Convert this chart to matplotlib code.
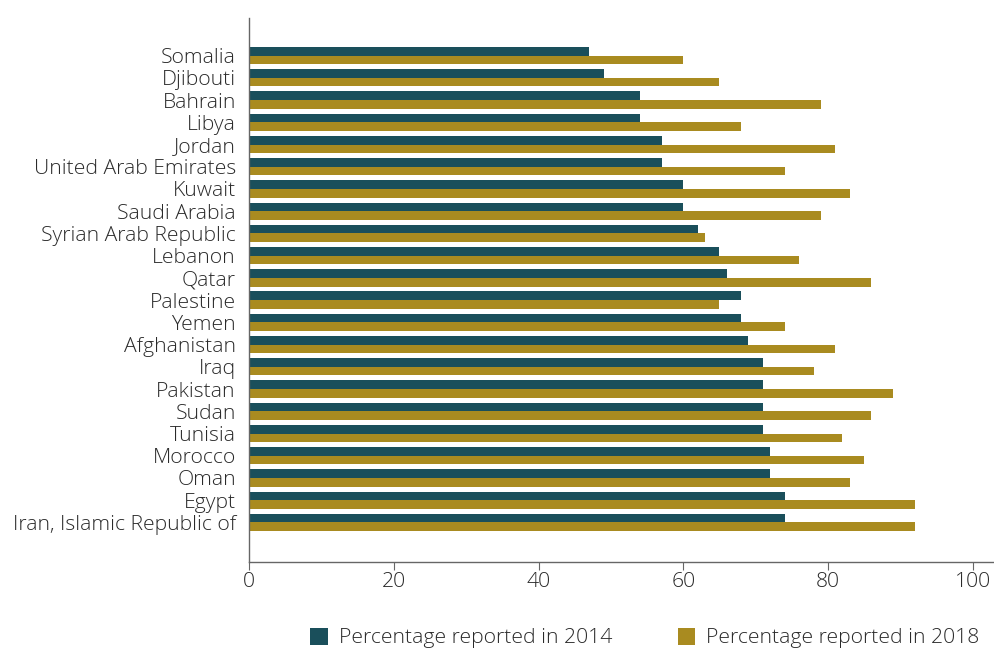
import matplotlib
matplotlib.use("Agg")
import matplotlib.pyplot as plt
import numpy as np

plt.rcParams['font.family'] = ['Open Sans', 'DejaVu Sans']

countries = ["Somalia", "Djibouti", "Bahrain", "Libya", "Jordan", "United Arab Emirates",
             "Kuwait", "Saudi Arabia", "Syrian Arab Republic", "Lebanon", "Qatar",
             "Palestine", "Yemen", "Afghanistan", "Iraq", "Pakistan", "Sudan", "Tunisia",
             "Morocco", "Oman", "Egypt", "Iran, Islamic Republic of"]
pct_2014 = [47, 49, 54, 54, 57, 57, 60, 60, 62, 65, 66, 68, 68, 69, 71, 71, 71, 71, 72, 72, 74, 74]
pct_2018 = [60, 65, 79, 68, 81, 74, 83, 79, 63, 76, 86, 65, 74, 81, 78, 89, 86, 82, 85, 83, 92, 92]
xticks = [0, 20, 40, 60, 80, 100]

c14 = "#1A4F5B"
c18 = "#A98B20"
tc = "#2a2a2a"

fig = plt.figure(figsize=(9.95, 6.48), dpi=100)
ax = fig.add_axes([0.2503, 0.1327, 0.7477, 0.8395])

y = np.arange(len(countries))
h = 0.39
ax.barh(y - h / 2, pct_2014, height=h, color=c14, label="Percentage reported in 2014")
ax.barh(y + h / 2, pct_2018, height=h, color=c18, label="Percentage reported in 2018")

ax.set_ylim(len(countries) - 1 + 1.78, -1.69)
ax.set_xlim(0, 102.8)
ax.set_yticks(y)
ax.set_yticklabels(countries, fontsize=15.2, color=tc, fontweight="light")
ax.set_xticks(xticks)
ax.set_xticklabels([str(t) for t in xticks], fontsize=15.2, color=tc, fontweight="light")
ax.tick_params(axis='y', length=0, pad=9.5)
ax.tick_params(axis='x', length=6, width=0.8, color="#666666", pad=1.5)
for s in ["top", "right"]:
    ax.spines[s].set_visible(False)
for s in ["left", "bottom"]:
    ax.spines[s].set_color("#666666")
    ax.spines[s].set_linewidth(1.0)

leg = fig.legend(loc="lower center", bbox_to_anchor=(0.648, -0.03), ncol=2, frameon=False,
                 prop={"size": 15.2, "weight": "light"}, handlelength=0.85, handleheight=0.85,
                 columnspacing=3.1, handletextpad=0.52)
for t in leg.get_texts():
    t.set_color(tc)

fig.savefig("out.png", dpi=100)
